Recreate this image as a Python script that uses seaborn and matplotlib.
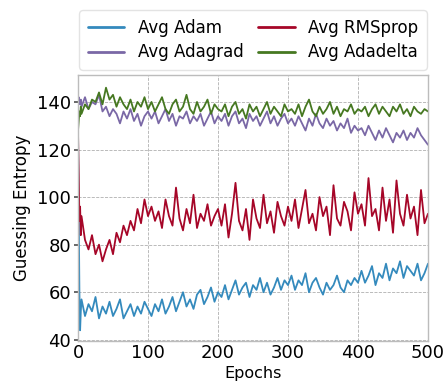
import matplotlib
matplotlib.use("Agg")
import matplotlib.pyplot as plt
import seaborn as sns
import pandas as pd
from matplotlib.lines import Line2D

epochs = [0, 1, 2, 3, 4] + list(range(5, 501, 5))

adam = [128, 95, 60, 44, 52,
        57, 50, 55, 52, 58, 49, 54, 51, 56, 50, 53, 57, 49, 52, 55, 50, 54, 51, 56, 53,
        50, 55, 52, 57, 51, 54, 58, 52, 56, 60, 54, 57, 53, 59, 61, 55, 58, 62, 56, 60,
        58, 63, 57, 61, 65, 59, 62, 64, 58, 63, 61, 66, 60, 64, 59, 62, 66, 61, 65, 63,
        67, 61, 65, 63, 68, 60, 64, 66, 62, 59, 64, 61, 63, 67, 62, 60, 65, 63, 66, 64,
        69, 64, 67, 71, 63, 68, 66, 72, 65, 70, 68, 73, 66, 71, 69, 67, 72, 65, 68, 72]

adagrad = [138, 142, 140, 139, 141,
           138, 142, 137, 140, 139, 143, 136, 138, 134, 137, 135, 131, 136, 133, 137, 132, 135, 130, 134, 136,
           133, 136, 131, 134, 137, 132, 135, 130, 134, 133, 136, 131, 134, 132, 135, 130, 133, 136, 131, 134,
           132, 135, 130, 134, 136, 131, 133, 129, 135, 132, 134, 130, 133, 136, 131, 134, 130, 133, 135, 131,
           133, 130, 134, 131, 128, 133, 130, 135, 131, 129, 133, 130, 132, 128, 131, 129, 133, 127, 130, 128,
           129, 126, 130, 127, 124, 128, 125, 129, 126, 123, 127, 125, 128, 124, 127, 125, 129, 126, 124, 122]

rmsprop = [128, 110, 90, 96, 84,
           92, 82, 78, 84, 76, 80, 73, 78, 82, 76, 85, 81, 88, 84, 90, 86, 95, 89, 99, 92,
           96, 90, 94, 87, 99, 92, 88, 104, 91, 86, 95, 89, 101, 87, 93, 90, 97, 88, 92, 95,
           88, 97, 83, 93, 106, 90, 86, 95, 82, 99, 91, 87, 101, 89, 94, 85, 98, 92, 88, 96,
           90, 99, 87, 95, 103, 89, 93, 86, 100, 92, 96, 84, 105, 91, 88, 98, 94, 86, 102, 93,
           97, 88, 108, 92, 95, 86, 104, 90, 99, 85, 107, 93, 88, 101, 91, 96, 84, 103, 89, 93]

adadelta = [128, 132, 136, 134, 138,
            135, 139, 137, 141, 140, 144, 139, 146, 141, 143, 138, 142, 139, 137, 141, 136, 140, 138, 142, 137,
            140, 136, 139, 142, 137, 135, 139, 141, 136, 138, 143, 137, 135, 140, 136, 138, 141, 135, 139, 137,
            136, 139, 134, 138, 140, 135, 137, 133, 139, 136, 138, 134, 137, 140, 135, 138, 136, 134, 139, 136,
            137, 135, 139, 134, 138, 141, 136, 134, 138, 135, 137, 140, 135, 138, 134, 137, 136, 139, 135, 137,
            136, 138, 134, 137, 139, 135, 138, 136, 134, 138, 136, 139, 135, 137, 134, 138, 136, 135, 137, 136]

series_names = ["Avg Adam", "Avg Adagrad", "Avg RMSprop", "Avg Adadelta"]
series_values = [adam, adagrad, rmsprop, adadelta]
colors = ["#348ABD", "#7A68A6", "#A60628", "#467821"]

rows = []
for name, vals in zip(series_names, series_values):
    for e, v in zip(epochs, vals):
        rows.append({"Epochs": e, "Guessing Entropy": v, "series": name})
df = pd.DataFrame(rows)

sns.set_theme(style="whitegrid")
plt.rcParams["font.family"] = ["DejaVu Sans"]
plt.rcParams["text.color"] = "black"
plt.rcParams["axes.labelcolor"] = "black"
plt.rcParams["xtick.color"] = "black"
plt.rcParams["ytick.color"] = "black"

fig = plt.figure(figsize=(4.47, 3.89), dpi=100)
ax = fig.add_axes([0.1745, 0.1234, 0.783, 0.6836])

sns.lineplot(data=df, x="Epochs", y="Guessing Entropy", hue="series",
             hue_order=series_names, palette=colors, linewidth=1.3, ax=ax,
             legend=False)

ax.set_xlim(0, 500)
ax.set_ylim(39.5, 151.3)
ax.set_xticks([0, 100, 200, 300, 400, 500])
ax.set_yticks([40, 60, 80, 100, 120, 140])
ax.tick_params(axis="y", labelsize=13, length=3, direction="out",
               color="#555555", labelcolor="black", pad=2, left=True)
ax.tick_params(axis="x", labelsize=13, length=0, pad=2, labelcolor="black")
ax.set_xlabel("Epochs", fontsize=11.5, labelpad=3, color="black")
ax.set_ylabel("Guessing Entropy", fontsize=12, labelpad=4, color="black")
ax.set_facecolor("white")
ax.grid(True, linestyle="--", color="#b0b0b0", linewidth=0.6)
for s in ax.spines.values():
    s.set_color("#bcbcbc")
    s.set_linewidth(1.0)

handles = [Line2D([], [], color=c, linewidth=2) for c in colors]
leg = ax.legend(handles, series_names, ncol=2, loc="lower center",
                bbox_to_anchor=(0.5, 1.02), borderaxespad=0, fontsize=12,
                frameon=True, handlelength=2.2, columnspacing=0.9,
                handletextpad=0.8, borderpad=0.5, labelspacing=0.4)
leg.get_frame().set_edgecolor("#dddddd")
for t in leg.get_texts():
    t.set_color("black")

fig.savefig("out.png", dpi=100)
